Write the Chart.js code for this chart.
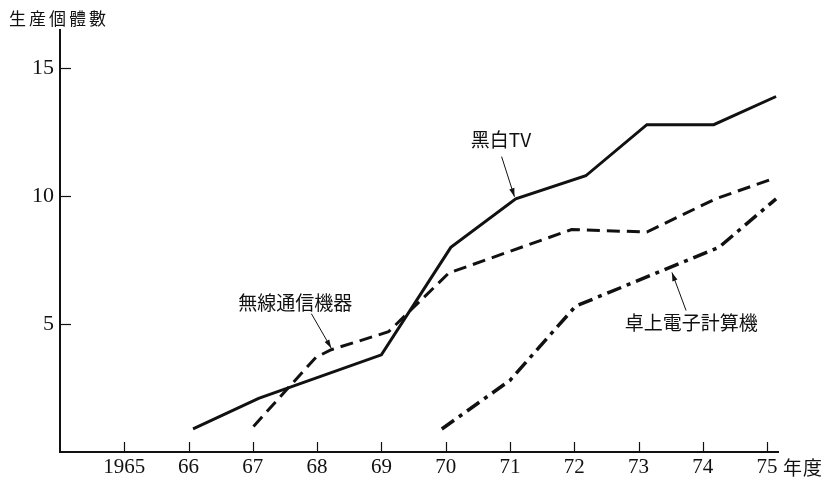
<!DOCTYPE html>
<html>
<head>
<meta charset="utf-8">
<script src="https://cdn.jsdelivr.net/npm/chart.js@4/dist/chart.umd.min.js"></script>
<style>
  html, body { margin: 0; padding: 0; background: #fff; }
  #wrap { width: 824px; height: 487px; }
</style>
</head>
<body>
<div id="wrap"><canvas id="myChart" width="824" height="487"></canvas></div>
<script>
// 年度 (1965 = 65)
var yearTicks = [65, 66, 67, 68, 69, 70, 71, 72, 73, 74, 75];
var yearLabels = ['1965', '66', '67', '68', '69', '70', '71', '72', '73', '74', '75'];
var valueTicks = [5, 10, 15];

// 黑白TV
var tvYears  = [66.07, 67.09, 69.0, 70.08, 71.09, 72.18, 73.13, 74.17, 75.14];
var tvValues = [0.9, 2.1, 3.8, 8.0, 9.9, 10.8, 12.8, 12.8, 13.9];

// 無線通信機器
var radioYears  = [67.01, 67.98, 68.22, 69.11, 70.05, 71.96, 73.13, 74.2, 75.11];
var radioValues = [1.0, 3.7, 4.0, 4.7, 7.0, 8.7, 8.6, 9.9, 10.7];

// 卓上電子計算機
var calcYears  = [69.94, 71.0, 72.02, 74.25, 75.14];
var calcValues = [0.9, 2.8, 5.7, 8.0, 9.9];

// 注記 (文字の位置・矢印) データ座標
var notes = [
  { text: '黑白TV', x: 70.86, y: 12.2, from: [70.87, 11.55], to: [71.07, 9.98] },
  { text: '無線通信機器', x: 67.66, y: 5.84, from: [67.91, 5.41], to: [68.22, 4.06] },
  { text: '卓上電子計算機', x: 73.82, y: 5.06, from: [73.74, 5.53], to: [73.52, 7.02] }
];

function toPoints(xs, ys) {
  var pts = [];
  for (var i = 0; i < xs.length; i++) pts.push({ x: xs[i], y: ys[i] });
  return pts;
}

var serif = '"Liberation Serif", "DejaVu Serif", serif';
var cjk = '"Noto Sans CJK JP", "Liberation Serif", serif';

var extras = {
  id: 'extras',
  afterDatasetsDraw: function(chart) {
    var ctx = chart.ctx;
    var xs = chart.scales.x, ys = chart.scales.y;
    var area = chart.chartArea;
    ctx.save();
    ctx.strokeStyle = '#111';
    ctx.fillStyle = '#111';
    // 内向きの目盛り
    ctx.lineWidth = 1.2;
    yearTicks.forEach(function(v) {
      var px = Math.round(xs.getPixelForValue(v)) + 0.5;
      ctx.beginPath();
      ctx.moveTo(px, area.bottom);
      ctx.lineTo(px, area.bottom - 10);
      ctx.stroke();
    });
    valueTicks.forEach(function(v) {
      var py = Math.round(ys.getPixelForValue(v)) + 0.5;
      ctx.beginPath();
      ctx.moveTo(area.left, py);
      ctx.lineTo(area.left + 11, py);
      ctx.stroke();
    });
    // 注記
    ctx.font = '19px ' + cjk;
    ctx.textAlign = 'center';
    ctx.textBaseline = 'middle';
    notes.forEach(function(n) {
      ctx.fillText(n.text, xs.getPixelForValue(n.x), ys.getPixelForValue(n.y));
      var x1 = xs.getPixelForValue(n.from[0]), y1 = ys.getPixelForValue(n.from[1]);
      var x2 = xs.getPixelForValue(n.to[0]), y2 = ys.getPixelForValue(n.to[1]);
      ctx.lineWidth = 1;
      ctx.beginPath();
      ctx.moveTo(x1, y1);
      ctx.lineTo(x2, y2);
      ctx.stroke();
      var a = Math.atan2(y2 - y1, x2 - x1);
      ctx.beginPath();
      ctx.moveTo(x2, y2);
      ctx.lineTo(x2 - 9 * Math.cos(a - 0.3), y2 - 9 * Math.sin(a - 0.3));
      ctx.lineTo(x2 - 9 * Math.cos(a + 0.3), y2 - 9 * Math.sin(a + 0.3));
      ctx.closePath();
      ctx.fill();
    });
    // 軸の見出し
    ctx.textAlign = 'left';
    ctx.textBaseline = 'alphabetic';
    ctx.font = '17px ' + cjk;
    ctx.letterSpacing = '3px';
    ctx.fillText('生産個體數', 9, 25);
    ctx.letterSpacing = '1px';
    ctx.font = '19px ' + cjk;
    ctx.fillText('年度', xs.getPixelForValue(75) + 16, area.bottom + 23);
    ctx.restore();
  }
};

var ctx = document.getElementById('myChart');
var myChart = new Chart(ctx, {
  type: 'line',
  data: {
    datasets: [{
      label: '黑白TV',
      data: toPoints(tvYears, tvValues),
      borderColor: '#111',
      borderWidth: 3
    }, {
      label: '無線通信機器',
      data: toPoints(radioYears, radioValues),
      borderColor: '#111',
      borderWidth: 3,
      borderDash: [13, 7]
    }, {
      label: '卓上電子計算機',
      data: toPoints(calcYears, calcValues),
      borderColor: '#111',
      borderWidth: 3.5,
      borderDash: [15, 6, 4, 6]
    }]
  },
  options: {
    responsive: false,
    animation: false,
    events: [],
    elements: { point: { radius: 0 }, line: { tension: 0, fill: false } },
    layout: { padding: { left: 0, top: 30, right: 46, bottom: 0 } },
    plugins: { legend: { display: false }, tooltip: { enabled: false } },
    scales: {
      x: {
        type: 'linear',
        min: 64,
        max: 75.17,
        afterFit: function(s) { s.height = 35; },
        grid: { display: false, drawTicks: false },
        border: { display: true, color: '#111', width: 2 },
        ticks: {
          stepSize: 1,
          includeBounds: false,
          autoSkip: false,
          maxRotation: 0,
          padding: 3,
          color: '#111',
          font: { family: serif, size: 21 },
          callback: function(v) {
            var i = yearTicks.indexOf(v);
            return i >= 0 ? yearLabels[i] : '';
          }
        }
      },
      y: {
        min: 0,
        max: 16.5,
        afterFit: function(s) { s.width = 60; },
        grid: { display: false, drawTicks: false },
        border: { display: true, color: '#111', width: 2 },
        ticks: {
          stepSize: 5,
          includeBounds: false,
          padding: 6,
          color: '#111',
          font: { family: serif, size: 22 },
          callback: function(v) {
            return valueTicks.indexOf(v) >= 0 ? String(v) : '';
          }
        }
      }
    }
  },
  plugins: [extras]
});
</script>
</body>
</html>
